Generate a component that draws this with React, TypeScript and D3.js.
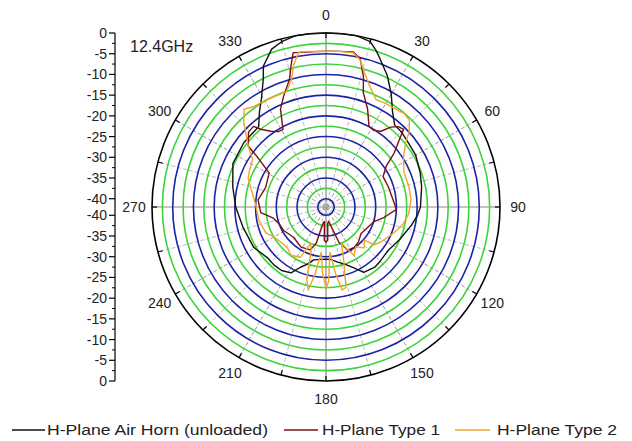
import React from "react";
import * as d3 from "d3";

// H-plane radiation patterns at 12.4 GHz (angle in degrees, normalised gain in dB)
const hornAngles = [0, 5, 10, 15, 18, 20, 25, 30, 35, 40, 45, 52, 60, 70, 78, 90, 95, 102, 114, 125, 135, 141, 150, 155, 162, 168, 175, 180, 185, 193, 198, 203, 208, 215, 222, 229, 241, 256, 270, 282, 295, 308, 320, 325, 329, 334, 336, 341, 345, 350, 355];
const hornGain = [0, 0, 0, -0.7, -2.5, -3.9, -7, -10.5, -14, -16.2, -16.3, -16.8, -17, -17.8, -18.4, -19.2, -19.8, -20.9, -22.6, -23.7, -23.5, -23.3, -23.8, -25.7, -27.5, -28.4, -29.3, -29.4, -29.3, -28.9, -27.5, -26.2, -24, -23.3, -23.2, -23.3, -22, -21.4, -20.2, -19, -17.2, -16.8, -16.7, -14, -11.7, -7.5, -4.8, -1.7, -0.7, 0, 0];

const type1Angles = [0, 5, 10, 13, 16, 18, 23, 28, 32, 36, 39, 42, 45, 47.5, 51.5, 56, 62, 72, 84, 92, 100, 107, 115, 127, 137, 145, 153, 160, 166, 170, 174, 177, 180, 183, 186, 190, 195, 200, 212, 227, 241, 250, 258, 265, 276, 288, 301, 306, 308, 314, 318, 320, 324, 328, 331, 335, 339, 344, 346, 348, 352, 356];
const type1Gain = [-4.4, -4.3, -4, -5.3, -9.2, -12.9, -16.3, -19.9, -20.2, -19.4, -17.2, -15.9, -15.5, -18, -20.9, -24.5, -26.4, -26.2, -25.7, -25, -27.7, -29.9, -30.7, -31.4, -30.5, -30.1, -30.3, -33, -37.5, -38.5, -38, -34, -33.5, -34, -38.5, -38, -33, -31, -30.6, -31.3, -30.3, -30, -29, -26.2, -25.5, -26.7, -26, -21.6, -18.2, -16, -15.8, -17.5, -19.4, -20.5, -20.6, -16, -13.4, -10, -7, -3.9, -4.3, -4.4];

const type2Angles = [0, 5, 10, 13, 16, 21, 25, 29, 33, 40, 44, 48, 51, 57, 66, 76, 85, 95, 103, 111, 122, 128, 131, 137, 143, 150, 157, 162, 166, 169, 172, 175, 178, 180, 183, 186, 189, 192, 195, 199, 203, 207, 216, 224, 232, 240, 247, 258, 272, 280, 290, 296, 303, 308, 313, 316, 320, 324, 331, 338, 341, 345, 347, 350, 355];
const type2Gain = [-4.4, -4.3, -4.2, -5.5, -8.3, -11.6, -13.4, -13.2, -13.1, -12.6, -13, -15, -17.2, -19.7, -21.4, -21.4, -21.4, -22, -23, -24.5, -26.2, -27.2, -29.8, -28.5, -30, -28.5, -32.5, -28, -22, -21.6, -26, -31, -24, -22.3, -26, -31, -26, -21.5, -24, -31, -32.5, -28.4, -27.6, -28.5, -28.2, -27.5, -26.2, -25.5, -25, -24, -22, -21.5, -20.9, -18.2, -15.5, -13.4, -11.2, -12.1, -12.4, -12.6, -12.6, -10, -7, -4, -4.3];

const angleLabels = [0, 30, 60, 90, 120, 150, 180, 210, 240, 270, 300, 330];
const gainTicks = [0, -5, -10, -15, -20, -25, -30, -35, -40];
const gainMinorTicks = [-2.5, -7.5, -12.5, -17.5, -22.5, -27.5, -32.5, -37.5];
const ringLevels = [-40, -37.5, -35, -32.5, -30, -27.5, -25, -22.5, -20, -17.5, -15, -12.5, -10, -7.5, -5, -2.5];
const frequencyLabel = "12.4GHz";

const seriesNames = ["H-Plane Air Horn (unloaded)", "H-Plane Type 1", "H-Plane Type 2"];
const seriesColors = ["#111111", "#7a1016", "#f2a42a"];

const W = 632;
const H = 441;
const cx = 326;
const cy = 207;
const R = 174;

const rScale = d3.scaleLinear().domain([-42, 0]).range([0, R]);
const toRad = (deg: number) => (deg * Math.PI) / 180;

const radial = d3
  .lineRadial<[number, number]>()
  .angle((d) => toRad(d[0]))
  .radius((d) => rScale(d[1]))
  .curve(d3.curveLinearClosed);

const polar = (deg: number, r: number): [number, number] => [
  cx + r * Math.sin(toRad(deg)),
  cy - r * Math.cos(toRad(deg)),
];

export default function App() {
  const series = [
    d3.zip(hornAngles, hornGain) as [number, number][],
    d3.zip(type1Angles, type1Gain) as [number, number][],
    d3.zip(type2Angles, type2Gain) as [number, number][],
  ];
  const spokes = d3.range(0, 360, 15);
  const axisX = 115;
  const font = "Liberation Sans, Arial, sans-serif";

  return (
    <svg
      width={W}
      height={H}
      style={{ position: "absolute", left: 0, top: 0, background: "#fff" }}
      fontFamily={font}
    >
      <rect width={W} height={H} fill="#fff" />

      {/* radial spokes */}
      {spokes.map((a) => {
        const [x2, y2] = polar(a, R);
        const main = a % 90 === 0;
        const major = a % 30 === 0;
        return (
          <line
            key={"s" + a}
            x1={cx}
            y1={cy}
            x2={x2}
            y2={y2}
            stroke={main ? "#888" : major ? "#999" : "#bbb"}
            strokeWidth={main ? 1.2 : 1}
            strokeDasharray={main ? undefined : "4,2"}
          />
        );
      })}

      {/* gain rings */}
      {ringLevels.map((v) => (
        <circle
          key={"r" + v}
          cx={cx}
          cy={cy}
          r={rScale(v)}
          fill="none"
          stroke={v % 5 === 0 ? "#1b22a6" : "#3bd43b"}
          strokeWidth={1.6}
        />
      ))}

      {/* outer boundary with angular ticks */}
      <circle cx={cx} cy={cy} r={R} fill="none" stroke="#000" strokeWidth={1.6} />
      {spokes.map((a) => {
        const [x1, y1] = polar(a, R);
        const [x2, y2] = polar(a, R - 5);
        return <line key={"t" + a} x1={x1} y1={y1} x2={x2} y2={y2} stroke="#000" strokeWidth={1.2} />;
      })}

      {/* patterns */}
      {series.map((d, i) => (
        <path
          key={"p" + i}
          d={radial(d) || ""}
          transform={`translate(${cx},${cy})`}
          fill="none"
          stroke={seriesColors[i]}
          strokeWidth={1.4}
          strokeLinejoin="round"
        />
      ))}

      {/* angle labels */}
      {angleLabels.map((a) => {
        const [x, y] = polar(a, 192);
        return (
          <text key={"a" + a} x={x} y={y} fontSize={14} textAnchor="middle" dominantBaseline="central" fill="#222">
            {a}
          </text>
        );
      })}

      {/* gain axis, mirrored above and below the centre */}
      <line x1={axisX} y1={cy - R} x2={axisX} y2={cy + R} stroke="#000" strokeWidth={1.2} />
      {[-1, 1].map((s) =>
        gainTicks.map((v) => {
          const y = cy + s * rScale(v);
          return (
            <g key={"g" + s + v}>
              <line x1={axisX - 6} y1={y} x2={axisX} y2={y} stroke="#000" strokeWidth={1.2} />
              <text x={axisX - 8} y={y} fontSize={14} textAnchor="end" dominantBaseline="central" fill="#222">
                {v}
              </text>
            </g>
          );
        })
      )}
      {[-1, 1].map((s) =>
        gainMinorTicks.map((v) => {
          const y = cy + s * rScale(v);
          return <line key={"m" + s + v} x1={axisX - 3} y1={y} x2={axisX} y2={y} stroke="#000" strokeWidth={1} />;
        })
      )}

      <text x={130} y={52} fontSize={16} fill="#222">
        {frequencyLabel}
      </text>

      {/* legend */}
      {[
        { x1: 12, x2: 45, tx: 47, len: 221 },
        { x1: 284, x2: 318, tx: 322, len: 118 },
        { x1: 455, x2: 490, tx: 497, len: 120 },
      ].map((l, i) => (
        <g key={"l" + i}>
          <line x1={l.x1} y1={430} x2={l.x2} y2={430} stroke={seriesColors[i]} strokeWidth={1.4} />
          <text
            x={l.tx}
            y={430}
            fontSize={14}
            dominantBaseline="central"
            textLength={l.len}
            lengthAdjust="spacingAndGlyphs"
            fill="#222"
          >
            {seriesNames[i]}
          </text>
        </g>
      ))}
    </svg>
  );
}
